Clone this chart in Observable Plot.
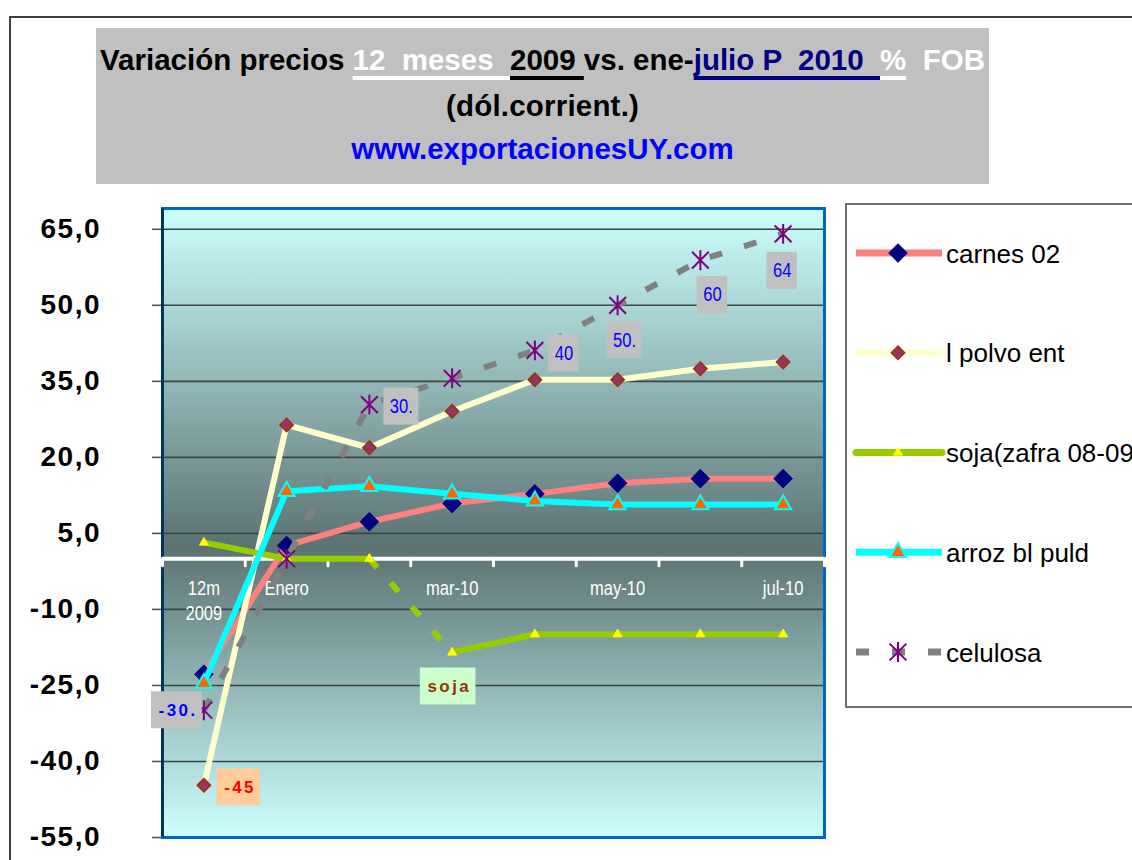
<!DOCTYPE html>
<html><head><meta charset="utf-8">
<script src="https://cdn.jsdelivr.net/npm/d3@7"></script>
<script src="https://cdn.jsdelivr.net/npm/@observablehq/plot@0.6"></script>
<style>
html,body{margin:0;padding:0;background:#fff;}
#wrap{position:relative;width:1132px;height:860px;overflow:hidden;font-family:"Liberation Sans",Arial,sans-serif;}
#chart{position:absolute;left:0;top:0;}
#frame{position:absolute;left:9px;top:16px;width:1140px;height:860px;border-left:2px solid #404040;border-top:2px solid #404040;pointer-events:none;}
#title{position:absolute;left:96px;top:28px;width:893px;height:156px;background:#C0C0C0;}
.tl{position:absolute;left:0;width:100%;text-align:center;font-weight:bold;font-size:29.5px;line-height:29.5px;white-space:pre;}
.u{text-decoration:underline;text-decoration-thickness:4px;text-underline-offset:6px;text-decoration-skip-ink:none;}
#legend{position:absolute;left:0;top:0;}
</style></head>
<body><div id="wrap">
<div id="chart"></div>
<div id="frame"></div>
<div id="title">
  <div class="tl" style="top:17px;color:#000"><span>Variación precios </span><span class="u" style="color:#fff">12  meses  </span><span class="u" style="color:#000">2009 </span><span>vs. ene-</span><span class="u" style="color:#000080">julio P  2010  </span><span class="u" style="color:#fff">%</span><span style="color:#fff">  FOB</span></div>
  <div class="tl" style="top:63px;color:#000;letter-spacing:0.2px">(dól.corrient.)</div>
  <div class="tl" style="top:106px;color:#0000FF">www.exportacionesUY.com</div>
</div>
<svg id="legend" width="1132" height="860"></svg>
</div>
<script>
// ---------- data ----------
const categories = ["12m 2009", "Enero", "feb-10", "mar-10", "abr-10", "may-10", "jun-10", "jul-10"];
const xTickCats  = ["12m 2009", "Enero", "mar-10", "may-10", "jul-10"];
const xTickText  = ["12m\n2009", "Enero", "mar-10", "may-10", "jul-10"];
const yTicks = [-55, -40, -25, -10, 5, 20, 35, 50, 65];

const seriesNames = ["carnes 02", "l polvo ent", "soja(zafra 08-09)", "arroz bl puld", "celulosa"];
const carnes02   = [-22.8, 2.6, 7.3, 10.9, 12.8, 14.9, 15.8, 15.8];
const lPolvoEnt  = [-44.7, 26.4, 21.9, 29.1, 35.3, 35.3, 37.5, 38.8];
const soja       = [3.2, 0.0, 0.0, -18.5, -14.9, -14.9, -14.9, -14.9];
const arrozBlPuld= [-24.6, 13.3, 14.3, 12.8, 11.4, 10.7, 10.7, 10.7];
const celulosa   = [-29.9, 0.0, 30.4, 35.6, 41.1, 50.0, 58.9, 64.1];

const labelSeries = ["celulosa", "l polvo ent", "soja(zafra 08-09)", "celulosa", "celulosa", "celulosa", "celulosa", "celulosa"];
const labelCats   = ["12m 2009", "12m 2009", "mar-10", "feb-10", "abr-10", "may-10", "jun-10", "jul-10"];
const labelTexts  = ["-30.", "-45", "soja", "30.", "40", "50.", "60", "64"];

// ---------- styles / layout ----------
const W = 1132, H = 860;
const SANS = "'Liberation Sans',Arial,sans-serif";
const NARROW_SCALE = 0.85;
const valuesByName = {"carnes 02": carnes02, "l polvo ent": lPolvoEnt, "soja(zafra 08-09)": soja, "arroz bl puld": arrozBlPuld, "celulosa": celulosa};

// Excel-like asterisk: vertical bar plus two 45° diagonals
const excelAsterisk = {
  draw(ctx, size) {
    const r = Math.sqrt(size / Math.PI);
    const h = r * 1.07, d = r * 0.9;
    ctx.moveTo(0, -h); ctx.lineTo(0, h);
    ctx.moveTo(-d, -d); ctx.lineTo(d, d);
    ctx.moveTo(-d, d); ctx.lineTo(d, -d);
  }
};
const look = {
  "carnes 02":        {line: "#FF8080", symbol: "diamond2", r: 8.4, fill: "#000080", stroke: "#000080", sw: 1},
  "l polvo ent":      {line: "#FFFFCC", symbol: "diamond2", r: 6.0, fill: "#993366", stroke: "#993300", sw: 1.5},
  "soja(zafra 08-09)":{line: "#99CC00", symbol: "triangle", r: 3.3, fill: "#FFFF00", stroke: "#FFFF00", sw: 1},
  "arroz bl puld":    {line: "#00FFFF", symbol: "triangle", r: 6.0, fill: "#FF6600", stroke: "#00FFFF", sw: 2},
  "celulosa":         {line: "#808080", symbol: excelAsterisk, r: 9.3, fill: "none", stroke: "#800080", sw: 2, dash: "13,23"}
};
const labelLook = {
  "-30.": {bg: "#C0C0C0", color: "#0000FF", bold: true, dx: -27, dy: 0},
  "-45":  {bg: "#FFCC99", color: "#FF0000", bold: true, dx: 35, dy: 2},
  "soja": {bg: "#CCFFCC", color: "#993300", bold: true, dx: -4, dy: 34},
  "30.":  {bg: "#C0C0C0", color: "#0000FF", bold: false, dx: 32, dy: 2},
  "40":   {bg: "#C0C0C0", color: "#0000FF", bold: false, dx: 29, dy: 3},
  "50.":  {bg: "#C0C0C0", color: "#0000FF", bold: false, dx: 7, dy: 35},
  "60":   {bg: "#C0C0C0", color: "#0000FF", bold: false, dx: 12, dy: 35},
  "64":   {bg: "#C0C0C0", color: "#0000FF", bold: false, dx: -1, dy: 37}
};
const BOLD_LS = 2.4;
const labelFont = lk => lk.bold ? {size: 17, weight: "bold", ls: BOLD_LS, sx: 1} : {size: 19.5, weight: "normal", ls: 0, sx: NARROW_SCALE};

const xi = c => categories.indexOf(c);
const rowsOf = name => categories.map((c, i) => ({i, c, v: valuesByName[name][i]}));
const fmt = d => d.toFixed(1).replace(".", ",");

// background gradient of the plotting area
function background(index, scales, values, dims) {
  const g = d3.create("svg:g");
  const grad = g.append("defs").append("linearGradient").attr("id", "bgGrad")
    .attr("x1", 0).attr("y1", 0).attr("x2", 0).attr("y2", 1);
  grad.append("stop").attr("offset", "0%").attr("stop-color", "#CCFFFF");
  grad.append("stop").attr("offset", "54%").attr("stop-color", "#5C7272");
  grad.append("stop").attr("offset", "100%").attr("stop-color", "#CCFFFF");
  g.append("rect").attr("x", dims.marginLeft).attr("y", dims.marginTop)
    .attr("width", dims.width - dims.marginLeft - dims.marginRight)
    .attr("height", dims.height - dims.marginTop - dims.marginBottom)
    .attr("fill", "url(#bgGrad)");
  return g.node();
}

// boxes behind data labels, placed with Plot's scales
const measureCtx = document.createElement("canvas").getContext("2d");
function labelBoxes(index, scales) {
  const g = d3.create("svg:g");
  labelTexts.forEach((t, k) => {
    const lk = labelLook[t], f = labelFont(lk);
    measureCtx.font = `${f.weight} ${f.size}px ${SANS}`;
    const w = (measureCtx.measureText(t).width + f.ls * t.length) * f.sx + 12;
    const h = 37;
    const cx = scales.x(xi(labelCats[k])) + lk.dx;
    const cy = scales.y(valuesByName[labelSeries[k]][xi(labelCats[k])]) + lk.dy;
    g.append("rect").attr("x", cx - w / 2).attr("y", cy - h / 2).attr("width", w).attr("height", h).attr("fill", lk.bg);
  });
  return g.node();
}

function seriesMarks(name) {
  const st = look[name];
  const data = rowsOf(name);
  const lineOpts = {x: "i", y: "v", stroke: st.line, strokeWidth: 6, strokeLinejoin: "round", strokeLinecap: "round"};
  const out = [];
  if (name === "soja(zafra 08-09)") {
    out.push(Plot.line(data.filter(d => d.i <= 2), lineOpts));
    out.push(Plot.line(data.filter(d => d.i >= 2 && d.i <= 3), {...lineOpts, strokeDasharray: "12,20", strokeLinecap: "butt"}));
    out.push(Plot.line(data.filter(d => d.i >= 3), lineOpts));
  } else if (st.dash) {
    out.push(Plot.line(data, {...lineOpts, strokeDasharray: st.dash, strokeLinecap: "butt"}));
  } else {
    out.push(Plot.line(data, lineOpts));
  }
  out.push(Plot.dot(data, {x: "i", y: "v", symbol: st.symbol, r: st.r, fill: st.fill, stroke: st.stroke, strokeWidth: st.sw}));
  return out;
}

const boundaries = d3.range(categories.length + 1).map(k => k - 0.5);

const marks = [
  background,
  Plot.ruleY(yTicks.filter(t => t > -55), {stroke: "#3c4646", strokeWidth: 1.6}),
  Plot.axisY({ticks: yTicks, tickFormat: fmt, tickSize: 10, tickPadding: 51.5, fontSize: 28, fontWeight: "bold", fill: "#000", stroke: "#555", strokeWidth: 1.6, label: null}),
  Plot.frame({stroke: "#0066CC", strokeWidth: 3}),
  Plot.ruleX([-0.5], {stroke: "#003366", strokeWidth: 3}),
  Plot.ruleY([0], {stroke: "white", strokeWidth: 4}),
  Plot.ruleX(boundaries, {x: d => d, y1: 0, y2: -1.5, stroke: "white", strokeWidth: 3, strokeLinecap: "round"}),
  Plot.text(xTickCats, {x: xi, y: 0, text: (d, i) => xTickText[i], dy: 19, lineAnchor: "top", lineHeight: 1.28, fill: "white", fontSize: 19.5, fontFamily: SANS, ariaDescription: "narrow"}),
  ...seriesNames.flatMap(seriesMarks),
  labelBoxes,
  ...labelTexts.map((t, k) => {
    const lk = labelLook[t], f = labelFont(lk);
    return Plot.text([t], {
      x: () => xi(labelCats[k]), y: () => valuesByName[labelSeries[k]][xi(labelCats[k])],
      text: d => d, dx: lk.dx + f.ls / 2, dy: lk.dy, fill: lk.color, fontSize: f.size, fontWeight: f.weight, fontFamily: SANS,
      ariaDescription: lk.bold ? "spaced" : "narrow"
    });
  })
];

const chart = Plot.plot({
  width: W, height: H,
  marginLeft: 162, marginRight: W - 824, marginTop: 208, marginBottom: H - 837,
  x: {domain: [-0.5, categories.length - 0.5], axis: null},
  y: {domain: [-55, 69.1], axis: null},
  style: {background: "transparent", fontFamily: SANS, overflow: "visible"},
  marks
});
document.getElementById("chart").appendChild(chart);

// condensed text (Arial Narrow look) and letter-spaced bold labels
const svgSel = d3.select(chart.tagName.toLowerCase() === "svg" ? chart : chart.querySelector("svg"));
svgSel.selectAll("g").each(function() {
  const g = d3.select(this);
  const desc = g.attr("aria-description");
  if (desc === "narrow") {
    g.selectAll(":scope > text").each(function() {
      const s = d3.select(this);
      s.attr("transform", (s.attr("transform") || "") + ` scale(${NARROW_SCALE},1)`);
    });
  } else if (desc === "spaced") {
    g.selectAll(":scope > text").style("letter-spacing", BOLD_LS + "px");
  }
});
svgSel.selectAll('g[aria-label="y-axis tick label"] text').style("letter-spacing", "1.5px").style("font-weight", "bold");

// ---------- legend ----------
const leg = d3.select("#legend");
leg.append("rect").attr("x", 846).attr("y", 204).attr("width", 320).attr("height", 503)
  .attr("fill", "white").attr("stroke", "#404040").attr("stroke-width", 1.5);
seriesNames.forEach((name, k) => {
  const st = look[name];
  const y = 253 + k * 99.75;
  const ln = leg.append("line").attr("x1", 856).attr("x2", 942).attr("y1", y).attr("y2", y)
    .attr("stroke", st.line).attr("stroke-width", 7);
  if (st.dash) ln.attr("stroke-dasharray", st.dash);
  else if (name === "soja(zafra 08-09)") ln.attr("stroke-linecap", "round");
  const typ = typeof st.symbol === "string" ? {diamond2: d3.symbolDiamond2, triangle: d3.symbolTriangle}[st.symbol] : st.symbol;
  leg.append("path").attr("transform", `translate(898,${y})`)
    .attr("d", d3.symbol(typ, Math.PI * st.r * st.r)())
    .attr("fill", st.fill).attr("stroke", st.stroke).attr("stroke-width", st.sw);
  leg.append("text").attr("x", 946).attr("y", y + 9.5).attr("font-size", 26)
    .attr("font-family", SANS).attr("fill", "#000").text(name);
});
</script>
</body></html>
